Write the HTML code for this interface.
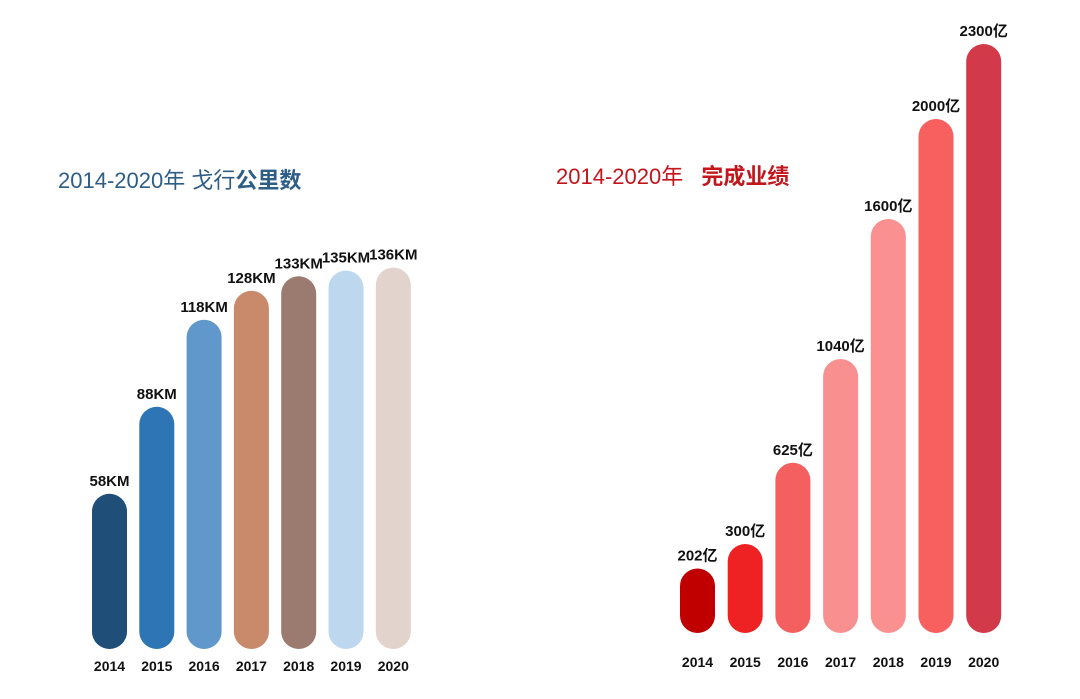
<!DOCTYPE html>
<html><head><meta charset="utf-8"><style>
body{margin:0;background:#fff;width:1080px;height:699px;overflow:hidden;font-family:"Liberation Sans","Noto Sans CJK SC",sans-serif;}
</style></head><body>
<svg width="1080" height="699" id="svg" style="position:absolute;left:0;top:0">
<text x="58" y="188" font-size="22" fill="#2e5d86" font-family="Liberation Sans,Noto Sans CJK SC,sans-serif">2014-2020年 戈行<tspan font-weight="bold">公里数</tspan></text>
<text x="556" y="184" font-size="22" fill="#c0161c" font-family="Liberation Sans,Noto Sans CJK SC,sans-serif">2014-2020年 <tspan font-weight="bold" dx="12">完成业绩</tspan></text>
</svg>
<script>
const years=["2014","2015","2016","2017","2018","2019","2020"];
const kmValues=[58,88,118,128,133,135,136];
const kmLabels=["58KM","88KM","118KM","128KM","133KM","135KM","136KM"];
const revValues=[202,300,625,1040,1600,2000,2300];
const revLabels=["202亿","300亿","625亿","1040亿","1600亿","2000亿","2300亿"];
const leftColors=["#1f4e79","#2e75b6","#6198cb","#c88a6a","#9b7b6f","#bdd7ee","#e2d3cc"];
const rightColors=["#c00000","#ee2222","#f46060","#f89090","#fa9090","#f86060","#d23a4a"];
const svg=document.getElementById('svg');
const NS="http://www.w3.org/2000/svg";
function drawChart(vals,labels,colors,x0,pitch,bottom,yearY,scale,prefix){
  vals.forEach((v,i)=>{
    const h=scale(v),x=x0+i*pitch,w=35;
    const r=document.createElementNS(NS,'rect');
    
    
    r.setAttribute('x',x);r.setAttribute('y',bottom-h);r.setAttribute('width',w);r.setAttribute('height',h);
    r.setAttribute('rx',17.5);r.setAttribute('fill',colors[i]);svg.appendChild(r);
    const t=document.createElementNS(NS,'text');
    
    
    t.setAttribute('x',x+w/2);t.setAttribute('y',bottom-h-8);t.setAttribute('text-anchor','middle');
    t.setAttribute('font-size','15');t.setAttribute('font-weight','bold');t.setAttribute('fill','#111');
    t.textContent=labels[i];svg.appendChild(t);
    const yt=document.createElementNS(NS,'text');
    
    
    yt.setAttribute('x',x+w/2);yt.setAttribute('y',yearY);yt.setAttribute('text-anchor','middle');
    yt.setAttribute('font-size','14');yt.setAttribute('font-weight','bold');yt.setAttribute('fill','#111');
    yt.textContent=years[i];svg.appendChild(yt);
  });
}
drawChart(kmValues,kmLabels,leftColors,92,47.3,649,671,v=>2.9*v-13,'km');
drawChart(revValues,revLabels,rightColors,680,47.7,633,667,v=>0.25*v+14,'revenue');
</script>
</body></html>
